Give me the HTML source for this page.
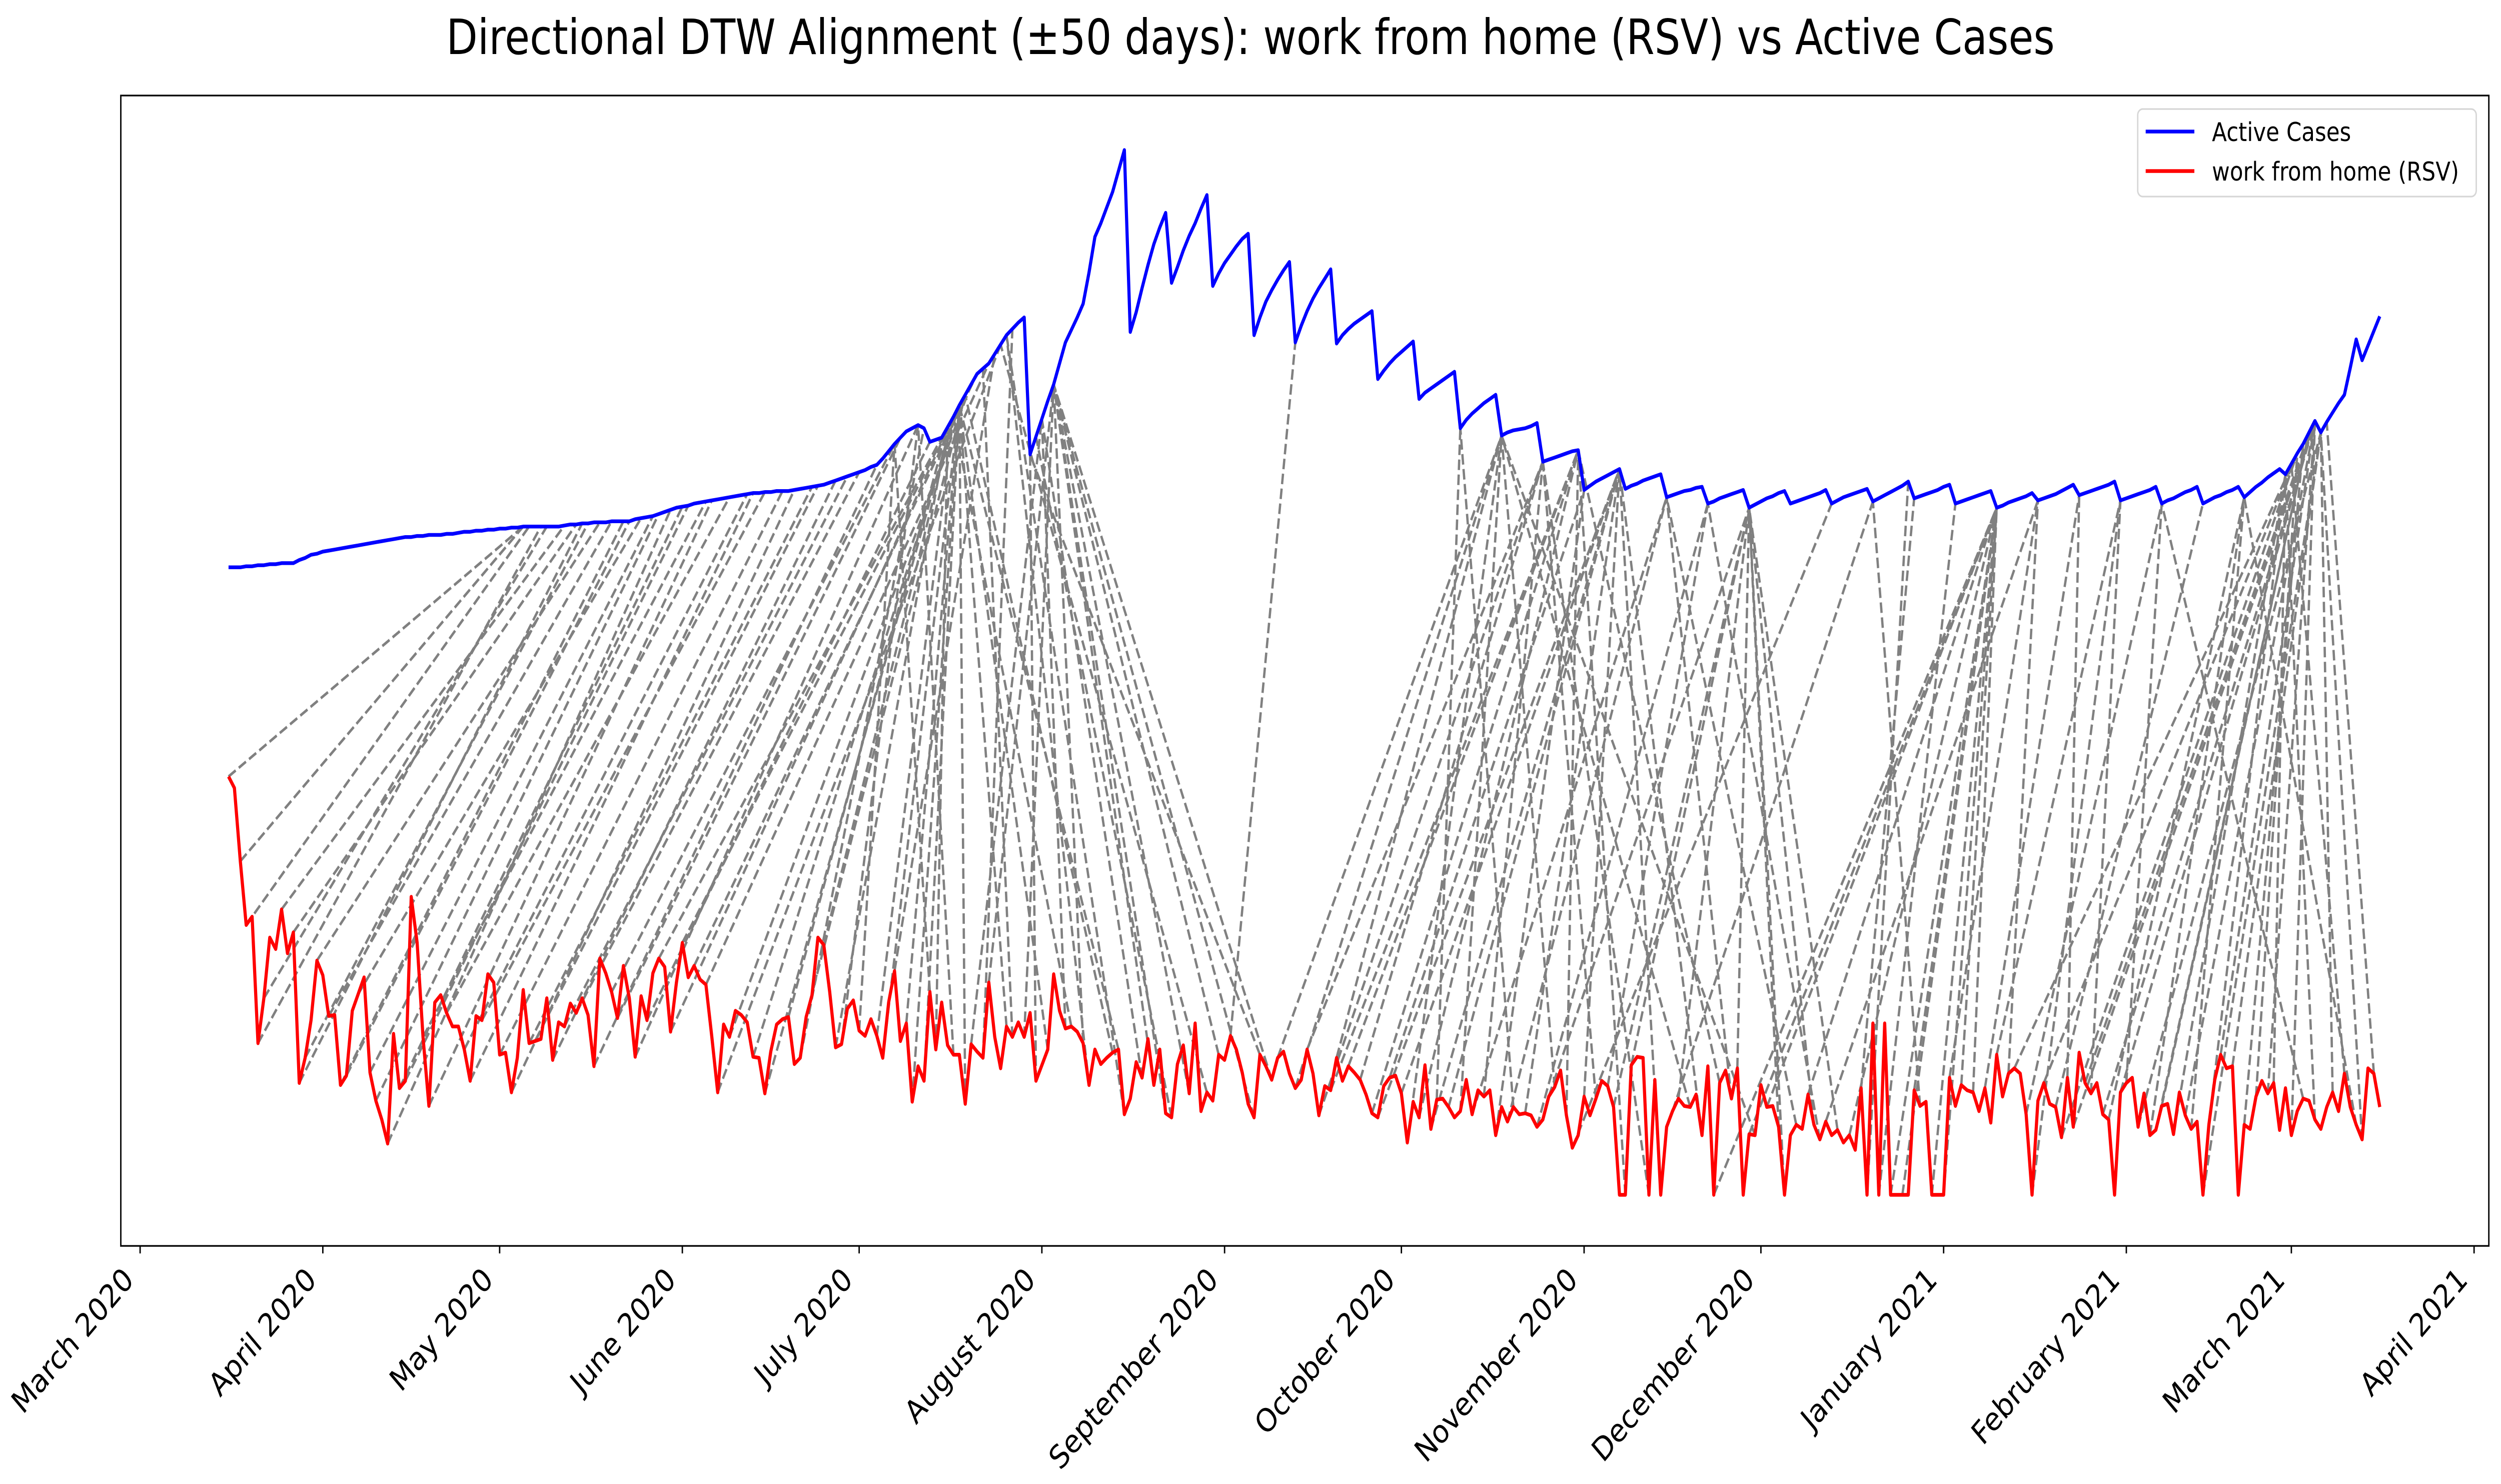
<!DOCTYPE html>
<html>
<head>
<meta charset="utf-8">
<style>
  html, body { margin: 0; padding: 0; background: #ffffff; width: 100%; height: 100%; overflow: hidden; }
  svg { display: block; width: 100vw; height: 100vh; }
  text { font-family: "DejaVu Sans", "Liberation Sans", sans-serif; }
</style>
</head>
<body>
<svg id="chart" xmlns="http://www.w3.org/2000/svg" viewBox="0 0 5962 2967" preserveAspectRatio="none">
  <rect x="0" y="0" width="5962" height="2967" fill="#ffffff"/>
  <text x="2981" y="108" font-size="97" text-anchor="middle" fill="#000">Directional DTW Alignment (±50 days): work from home (RSV) vs Active Cases</text>
  <g id="connections"></g>
  <g id="series"></g>
  <rect x="288" y="191" width="5645" height="2300" fill="none" stroke="#000" stroke-width="3.3"/>
  <g id="xaxis"></g>
  <g>
    <rect x="5096" y="218" width="807" height="175" rx="12" ry="12" fill="#ffffff" fill-opacity="0.8" stroke="#d6d6d6" stroke-width="3.3"/>
    <line x1="5115" y1="263" x2="5231" y2="263" stroke="#0000ff" stroke-width="7.5"/>
    <text x="5273" y="282" font-size="52" fill="#000">Active Cases</text>
    <line x1="5115" y1="342" x2="5231" y2="342" stroke="#ff0000" stroke-width="7.5"/>
    <text x="5273" y="361" font-size="52" fill="#000">work from home (RSV)</text>
  </g>
</svg>
<script>
// ---- data (days since 1 March 2020; values in normalized units) ----
const dayStart = 15;
const blueVals = [
60.1,60.1,60.1,60.2,60.2,60.3,60.3,60.4,60.4,60.5,60.5,
60.5,60.8,61.0,61.3,61.4,61.6,61.7,61.8,61.9,62.0,
62.1,62.2,62.3,62.4,62.5,62.6,62.7,62.8,62.9,63.0,
63.0,63.1,63.1,63.2,63.2,63.2,63.3,63.3,63.4,63.5,
63.5,63.6,63.6,63.7,63.7,63.8,63.8,63.9,63.9,64.0,
64.0,64.0,64.0,64.0,64.0,64.0,64.1,64.2,64.2,64.3,
64.3,64.4,64.4,64.4,64.5,64.5,64.5,64.5,64.7,64.8,
64.9,65.0,65.2,65.4,65.6,65.8,65.9,66.0,66.2,66.3,
66.4,66.5,66.6,66.7,66.8,66.9,67.0,67.1,67.2,67.2,
67.3,67.3,67.4,67.4,67.4,67.5,67.6,67.7,67.8,67.9,
68.0,68.2,68.4,68.6,68.8,69.0,69.2,69.4,69.7,69.9,
70.5,71.2,71.9,72.5,73.1,73.4,73.7,73.4,72.1,72.3,
72.5,73.5,74.5,75.6,76.6,77.6,78.6,79.1,79.6,80.5,
81.4,82.3,82.9,83.5,84.0,70.9,72.6,74.3,76.0,77.6,
79.6,81.6,82.8,84.0,85.3,88.3,91.7,93.0,94.5,96.0,
98.0,100.0,82.6,84.5,86.8,89.0,91.0,92.6,94.0,87.3,
88.8,90.4,91.8,93.0,94.4,95.7,87.0,88.2,89.2,90.0,
90.8,91.5,92.0,82.3,84.0,85.5,86.6,87.6,88.5,89.3,
81.6,83.2,84.6,85.8,86.8,87.7,88.6,81.5,82.3,82.9,
83.4,83.8,84.2,84.6,78.1,78.9,79.6,80.2,80.7,81.2,
81.7,76.2,76.8,77.2,77.6,78.0,78.4,78.8,73.4,74.2,
74.8,75.3,75.8,76.2,76.6,72.7,73.0,73.2,73.3,73.4,
73.6,73.9,70.2,70.4,70.6,70.8,71.0,71.2,71.3,67.5,
67.9,68.3,68.6,68.9,69.2,69.5,67.6,67.9,68.1,68.4,
68.6,68.8,69.0,66.8,67.0,67.2,67.4,67.5,67.7,67.8,
66.2,66.4,66.7,66.9,67.1,67.3,67.5,65.8,66.1,66.4,
66.7,66.9,67.2,67.4,66.2,66.4,66.6,66.8,67.0,67.2,
67.5,66.2,66.5,66.8,67.0,67.2,67.4,67.6,66.4,66.7,
67.0,67.3,67.6,67.9,68.3,66.7,66.9,67.1,67.3,67.5,
67.8,68.0,66.2,66.4,66.6,66.8,67.0,67.2,67.4,65.8,
66.0,66.3,66.5,66.7,66.9,67.2,66.5,66.7,66.9,67.1,
67.4,67.7,68.0,67.0,67.2,67.4,67.6,67.8,68.0,68.3,
66.5,66.7,66.9,67.1,67.3,67.5,67.8,66.2,66.5,66.7,
67.0,67.3,67.5,67.8,66.2,66.5,66.8,67.0,67.3,67.5,
67.8,66.8,67.3,67.8,68.2,68.7,69.1,69.5,69.0,70.0,
71.0,71.9,73.0,74.1,73.0,74.0,74.9,75.8,76.6,79.2,
81.9,79.9,81.3,82.7,84.1
];
const redVals = [
40.1,39,32,25.9,26.7,14.6,18.9,24.7,23.6,27.4,23.2,
25.2,10.8,13.2,16.8,22.5,21.1,17.2,17.3,10.6,11.5,
17.7,19.3,20.9,11.8,9.1,7.3,5,15.5,10.3,11,
28.6,24.2,15.2,8.6,18.5,19.2,17.5,16.2,16.2,14,
11,17.2,16.8,21.2,20.4,13.5,13.7,9.9,13.2,19.7,
14.6,14.8,15,18.9,13,16.6,16.2,18.4,17.5,18.9,
17.3,12.4,22.7,21.3,19.5,17,22,18.9,13.3,19.1,
16.8,21.3,22.7,21.9,15.7,20.4,24.2,20.9,22,20.7,
20.2,15.2,9.9,16.4,15.2,17.7,17.3,16.6,13.3,13.2,
9.8,13.8,16.4,16.9,17.1,12.6,13.2,17.1,19.2,24.7,
24,19.5,14.2,14.5,17.9,18.7,15.8,15.3,16.9,15.3,
13.2,18.5,21.5,14.8,16.5,9,12.4,11,19.5,14,
18.5,14.4,13.5,13.5,8.8,14.5,13.8,13.2,20.4,15.2,
12.2,16.2,15.2,16.6,15.2,17.5,11,12.5,14,21.2,
17.7,16,16.2,15.7,14.6,10.6,14,12.6,13.2,13.7,
14,7.8,9.3,12.8,11.3,15,10.6,14,7.9,7.5,
12.6,14.4,9.8,16.5,8.1,9.9,9.1,13.5,13,15.3,
14,11.8,8.8,7.5,13.5,12.4,11.1,13.2,13.8,11.7,
10.3,11.1,14,11.7,7.7,10.5,10.1,13.2,11,12.4,
11.8,11.1,9.7,7.9,7.5,10.5,11.3,11.5,9.8,5.1,
9,7.5,12.5,6.4,9.2,9.3,8.5,7.5,8.1,11.1,
7.8,10.1,9.5,10.1,5.8,8.5,7.1,8.5,7.8,7.9,
7.7,6.6,7.3,9.5,10.4,12,7.7,4.6,5.8,9.5,
7.7,9.3,11,10.5,8.5,0.1,0.1,12.5,13.3,13.2,
0.1,11.1,0.1,6.6,8.1,9.3,8.6,8.5,9.7,5.8,
12.4,0.1,10.8,12,9.3,12.2,0.1,5.9,5.8,10.6,
8.5,8.6,6.6,0.1,5.8,6.8,6.4,9.7,6.8,5.4,
7.1,5.8,6.3,5.1,5.8,4.4,10.3,0.1,16.5,0.1,
16.5,0.1,0.1,0.1,0.1,10.1,8.6,9,0.1,0.1,
0.1,11.3,8.6,10.6,10.1,9.9,8.1,10.3,7,13.5,
9.5,11.7,12.2,11.7,7.8,0.1,9.1,10.8,8.8,8.5,
5.6,11.3,6.6,13.7,10.8,9.8,10.8,7.8,7.3,0.1,
9.9,10.8,11.3,6.6,9.8,5.8,6.3,8.6,8.8,5.9,
9.9,7.7,6.4,7.1,0.1,6.8,11.1,13.5,12.2,12.4,
0.1,6.8,6.4,9.5,11,9.8,10.8,6.3,10.3,5.8,
8.1,9.3,9.1,7.3,6.4,8.5,9.9,8.1,11.7,8.5,
6.8,5.4,12.2,11.7,8.5
];
// DTW matched pairs (day of red series -> day of blue series)
const pairRed = [
15,17,18,20,21,24,26,27,28,30,32,34,35,37,39,40,42,44,45,48,49,52,55,56,58,61,63,66,67,70,72,74,77,80,81,84,86,88,90,92,94,96,98,
100,104,106,110,112,113,116,118,119,122,125,126,128,130,131,133,134,135,138,140,141,143,144,147,148,150,152,154,157,158,160,161,165,166,167,170,172,174,175,178,181,183,185,189,190,192,
193,196,198,200,202,203,205,207,209,210,212,214,215,217,219,220,222,224,226,228,230,232,233,235,237,239,240,242,243,245,247,249,250,252,253,256,258,260,261,263,265,267,268,270,271,273,274,276,278,279,281,283,284,285,286,288,
290,292,293,295,297,299,301,302,304,306,307,309,311,313,315,317,318,320,321,323,325,326,327,328,330,331,333,334,336,337,339,341,342,343,345,347,348,350,351,353,355,357,359,361,362,365,367,369,372,374,376,377,379
];
const pairBlue = [
65,65,66,68,69,72,74,75,76,78,80,82,83,85,87,88,90,92,93,96,97,100,103,104,106,109,111,114,115,118,120,122,125,128,129,132,134,136,138,140,142,144,146,
141,139,138,137,133,140,138,137,132,128,138,139,145,139,139,139,128,137,132,139,153,148,155,139,143,155,151,139,153,138,155,147,140,139,147,153,155,155,152,155,146,155,196,155,151,155,
231,231,238,238,244,231,244,238,244,251,245,251,231,244,251,224,251,231,259,238,245,259,224,251,266,273,231,244,287,251,238,266,273,244,273,238,251,294,273,231,251,315,244,259,273,315,231,315,273,273,259,315,273,266,322,273,
315,301,300,308,315,315,315,294,315,315,322,315,315,329,336,322,366,343,336,366,350,366,329,369,368,336,369,357,369,343,370,357,368,368,364,369,357,370,364,369,370,367,366,369,364,369,343,364,370,365,357,370,371
];
const tickDays = [0,31,61,92,122,153,184,214,245,275,306,337,365,396];
const tickLabels = ["March 2020","April 2020","May 2020","June 2020","July 2020","August 2020","September 2020","October 2020","November 2020","December 2020","January 2021","February 2021","March 2021","April 2021"];

// ---- scales ----
const X0 = 334, PX_PER_DAY = 14.05;
const Y0 = 2391, PX_PER_UNIT = 20.91;
function xScale(d) { return X0 + d * PX_PER_DAY; }
function yScale(v) { return Y0 - v * PX_PER_UNIT; }
function blueAt(d) { return blueVals[d - dayStart]; }
function redAt(d) { return redVals[d - dayStart]; }

const NS = "http://www.w3.org/2000/svg";
const conn = document.getElementById("connections");
for (let i = 0; i < pairRed.length; i++) {
  const rd = pairRed[i], bd = pairBlue[i];
  if (redAt(rd) === undefined || blueAt(bd) === undefined) continue;
  const ln = document.createElementNS(NS, "line");
  
  
  ln.setAttribute("x1", xScale(rd));
  ln.setAttribute("y1", yScale(redAt(rd)));
  ln.setAttribute("x2", xScale(bd));
  ln.setAttribute("y2", yScale(blueAt(bd)));
  ln.setAttribute("stroke", "#808080");
  ln.setAttribute("stroke-width", "5.5");
  ln.setAttribute("stroke-dasharray", "21 9");
  conn.appendChild(ln);
}

const series = document.getElementById("series");
function makeLine(vals, color, name) {
  const pts = vals.map((v, i) => xScale(dayStart + i).toFixed(1) + "," + yScale(v).toFixed(1)).join(" ");
  const pl = document.createElementNS(NS, "polyline");
  
  
  pl.setAttribute("points", pts);
  pl.setAttribute("fill", "none");
  pl.setAttribute("stroke", color);
  pl.setAttribute("stroke-width", "7.5");
  pl.setAttribute("stroke-linejoin", "round");
  series.appendChild(pl);
}
makeLine(blueVals, "#0000ff", "active-cases-line");
makeLine(redVals, "#ff0000", "work-from-home-line");

const xaxis = document.getElementById("xaxis");
for (let i = 0; i < tickDays.length; i++) {
  const tx = xScale(tickDays[i]);
  const tk = document.createElementNS(NS, "line");
  
  
  tk.setAttribute("x1", tx); tk.setAttribute("x2", tx);
  tk.setAttribute("y1", 2491); tk.setAttribute("y2", 2506);
  tk.setAttribute("stroke", "#000"); tk.setAttribute("stroke-width", "3.3");
  xaxis.appendChild(tk);
  const lb = document.createElementNS(NS, "text");
  
  
  const ax = tx - 12, ay = 2562;
  lb.setAttribute("x", ax); lb.setAttribute("y", ay);
  lb.setAttribute("font-size", "64");
  lb.setAttribute("text-anchor", "end");
  lb.setAttribute("transform", "rotate(-45 " + ax + " " + ay + ")");
  lb.textContent = tickLabels[i];
  xaxis.appendChild(lb);
}
</script>
</body>
</html>
